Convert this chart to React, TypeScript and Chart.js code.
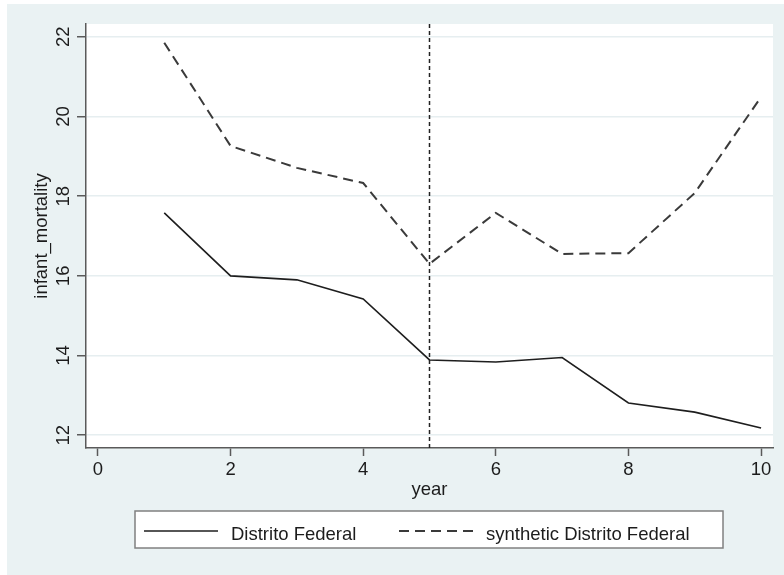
import React, { useEffect, useRef } from 'react';
import { Chart, registerables } from 'chart.js';

Chart.register(...registerables);

// ---- data ----
const years = [1, 2, 3, 4, 5, 6, 7, 8, 9, 10];
const distritoFederal = [17.58, 16.0, 15.9, 15.42, 13.89, 13.84, 13.95, 12.81, 12.58, 12.18];
const syntheticDistritoFederal = [21.85, 19.26, 18.71, 18.33, 16.3, 17.58, 16.55, 16.57, 18.08, 20.49];
const seriesLabels = ['Distrito Federal', 'synthetic Distrito Federal'];
const xTickValues = [0, 2, 4, 6, 8, 10];
const yTickValues = [12, 14, 16, 18, 20, 22];
const treatmentYear = 5;
const xTitle = 'year';
const yTitle = 'infant_mortality';

const FONT = '"Liberation Sans", Arial, Helvetica, sans-serif';
const FS = 18.5;
const TEXT = '#1c1c1c';
const AXIS = '#5a5a5a';
const GRID = '#e6eef0';
const PANEL = '#eaf2f3';

const stataPlugin = {
  id: 'stataLook',
  beforeDraw(chart: any) {
    const { ctx, chartArea: a, width, height } = chart;
    ctx.save();
    ctx.fillStyle = '#ffffff';
    ctx.fillRect(0, 0, width, height);
    ctx.fillStyle = PANEL;
    ctx.fillRect(7, 4, width - 7, height - 4);
    ctx.fillStyle = '#ffffff';
    ctx.fillRect(a.left, a.top, a.right - a.left, a.bottom - a.top);
    ctx.restore();
  },
  beforeDatasetsDraw(chart: any) {
    const { ctx, chartArea: a } = chart;
    const x = chart.scales.x.getPixelForValue(treatmentYear);
    ctx.save();
    ctx.strokeStyle = '#222222';
    ctx.lineWidth = 1.5;
    ctx.setLineDash([4, 3]);
    ctx.beginPath();
    ctx.moveTo(x, a.top);
    ctx.lineTo(x, a.bottom);
    ctx.stroke();
    ctx.restore();
  },
  afterDraw(chart: any) {
    const { ctx } = chart;
    const bx = 135, by = 511, bw = 588, bh = 37;
    ctx.save();
    ctx.fillStyle = '#ffffff';
    ctx.fillRect(bx, by, bw, bh);
    ctx.strokeStyle = '#808080';
    ctx.lineWidth = 1.5;
    ctx.strokeRect(bx, by, bw, bh);
    const items = [
      { x0: 144, x1: 218, tx: 231 },
      { x0: 399, x1: 474, tx: 486 },
    ];
    chart.data.datasets.forEach((ds: any, i: number) => {
      const it = items[i];
      ctx.strokeStyle = ds.borderColor;
      ctx.lineWidth = ds.borderWidth;
      ctx.setLineDash(ds.borderDash || []);
      ctx.beginPath();
      ctx.moveTo(it.x0, 531);
      ctx.lineTo(it.x1, 531);
      ctx.stroke();
      ctx.setLineDash([]);
      ctx.fillStyle = TEXT;
      ctx.font = `${FS}px ${FONT}`;
      ctx.textBaseline = 'alphabetic';
      ctx.textAlign = 'left';
      ctx.fillText(ds.label, it.tx, 540);
    });
    ctx.restore();
  },
};

export default function App() {
  const ref = useRef<HTMLCanvasElement | null>(null);

  useEffect(() => {
    if (!ref.current) return;
    const chart = new Chart(ref.current, {
      type: 'line',
      data: {
        datasets: [
          {
            label: seriesLabels[0],
            data: years.map((y, i) => ({ x: y, y: distritoFederal[i] })),
            borderColor: '#1e1e1e',
            borderWidth: 1.6,
            pointRadius: 0,
            tension: 0,
            fill: false,
          },
          {
            label: seriesLabels[1],
            data: years.map((y, i) => ({ x: y, y: syntheticDistritoFederal[i] })),
            borderColor: '#3a3a3a',
            borderWidth: 2,
            borderDash: [10, 6],
            pointRadius: 0,
            tension: 0,
            fill: false,
          },
        ],
      },
      options: {
        animation: false,
        responsive: false,
        maintainAspectRatio: false,
        layout: { padding: { left: 0, top: 24, right: 11, bottom: 67 } },
        plugins: {
          legend: { display: false },
          tooltip: { enabled: false },
        },
        scales: {
          x: {
            type: 'linear',
            min: -0.18,
            max: 10.18,
            afterBuildTicks: (s: any) => {
              s.ticks = xTickValues.map((v) => ({ value: v }));
            },
            afterFit: (s: any) => {
              s.height = 60;
            },
            ticks: {
              includeBounds: false,
              autoSkip: false,
              maxRotation: 0,
              minRotation: 0,
              padding: 3,
              color: TEXT,
              font: { family: FONT, size: FS },
            },
            grid: {
              drawOnChartArea: false,
              drawTicks: true,
              tickLength: 8,
              tickColor: AXIS,
              tickWidth: 1.5,
            },
            border: { color: AXIS, width: 1.5 },
            title: {
              display: true,
              text: xTitle,
              color: TEXT,
              font: { family: FONT, size: FS },
              padding: { top: 0, bottom: 7 },
            },
          },
          y: {
            type: 'linear',
            min: 11.68,
            max: 22.32,
            afterBuildTicks: (s: any) => {
              s.ticks = yTickValues.map((v) => ({ value: v }));
            },
            afterFit: (s: any) => {
              s.width = 86;
            },
            ticks: {
              includeBounds: false,
              autoSkip: false,
              minRotation: 90,
              maxRotation: 90,
              crossAlign: 'center',
              padding: 3,
              color: TEXT,
              font: { family: FONT, size: FS },
            },
            grid: {
              drawOnChartArea: true,
              drawTicks: true,
              color: GRID,
              lineWidth: 1.5,
              tickLength: 9,
              tickColor: AXIS,
              tickWidth: 1.5,
            },
            border: { color: AXIS, width: 1.5 },
            title: {
              display: true,
              text: yTitle,
              color: TEXT,
              font: { family: FONT, size: FS },
              padding: { top: 31, bottom: 0 },
            },
          },
        },
      },
      plugins: [stataPlugin],
    } as any);
    return () => chart.destroy();
  }, []);

  return (
    <div style={{ position: 'fixed', left: 0, top: 0, width: 784, height: 575 }}>
      <canvas ref={ref} width={784} height={575} style={{ display: 'block', width: 784, height: 575 }} />
    </div>
  );
}
